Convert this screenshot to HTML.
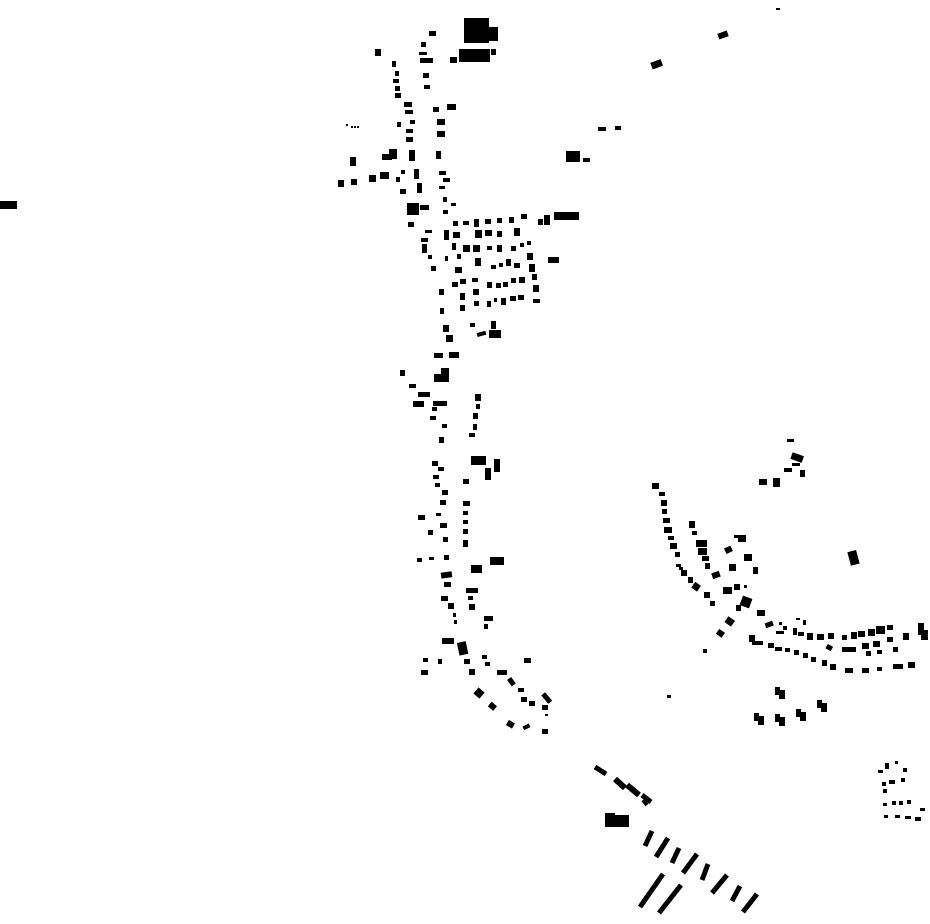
<!DOCTYPE html>
<html><head><meta charset="utf-8"><style>html,body{margin:0;padding:0;background:#fff}svg{display:block}</style></head>
<body>
<svg width="930" height="924" viewBox="0 0 930 924" xmlns="http://www.w3.org/2000/svg">
<rect width="930" height="924" fill="#fff"/>
<g fill="#000">
<!-- outliers -->
<rect x="0" y="201" width="17" height="8"/>
<rect x="718" y="32" width="10" height="6" transform="rotate(-20 723 35)"/>
<rect x="651" y="61" width="11" height="7" transform="rotate(-20 656 64)"/>
<rect x="776" y="8" width="4" height="2"/>
<rect x="598" y="127" width="8" height="4"/><rect x="615" y="126" width="6" height="4"/>
<rect x="346" y="124" width="2" height="2"/><rect x="351" y="126" width="2" height="2"/><rect x="354" y="126" width="2" height="2"/><rect x="357" y="126" width="2" height="2"/>
<!-- top cluster -->
<rect x="464" y="18" width="25" height="25"/><rect x="487" y="27" width="11" height="14"/>
<rect x="459" y="49" width="31" height="13"/><rect x="491" y="49" width="5" height="6"/>
<rect x="450" y="57" width="7" height="6"/>
<rect x="429" y="31" width="7" height="5"/><rect x="421" y="42" width="5" height="5"/>
<rect x="375" y="49" width="6" height="7"/><rect x="419" y="52" width="8" height="3"/>
<rect x="420" y="58" width="13" height="5"/>
<rect x="392" y="61" width="4" height="6"/><rect x="395" y="71" width="4" height="5"/>
<rect x="393" y="79" width="6" height="4"/><rect x="395" y="86" width="5" height="5"/>
<rect x="395" y="93" width="6" height="5"/><rect x="423" y="73" width="6" height="5"/>
<rect x="424" y="85" width="6" height="4"/><rect x="404" y="102" width="8" height="5"/>
<rect x="405" y="110" width="8" height="4"/><rect x="433" y="107" width="6" height="5"/>
<rect x="447" y="104" width="9" height="6"/><rect x="397" y="122" width="4" height="5"/>
<rect x="410" y="120" width="5" height="4"/><rect x="406" y="129" width="7" height="4"/>
<rect x="406" y="137" width="7" height="5"/><rect x="437" y="119" width="8" height="6"/>
<rect x="437" y="131" width="8" height="6"/>
<rect x="382" y="154" width="10" height="6"/><rect x="389" y="149" width="8" height="10"/>
<rect x="350" y="157" width="6" height="9"/><rect x="409" y="150" width="6" height="11"/>
<rect x="436" y="151" width="5" height="8"/>
<rect x="566" y="151" width="14" height="11"/><rect x="583" y="158" width="7" height="4"/>
<rect x="338" y="180" width="6" height="7"/><rect x="351" y="179" width="6" height="6"/>
<rect x="369" y="175" width="7" height="7"/><rect x="380" y="172" width="9" height="7"/>
<rect x="401" y="170" width="4" height="4"/><rect x="396" y="177" width="4" height="5"/>
<rect x="414" y="169" width="5" height="10"/><rect x="417" y="183" width="5" height="10"/>
<rect x="439" y="171" width="7" height="4"/><rect x="443" y="178" width="7" height="4"/>
<rect x="439" y="186" width="6" height="3"/><rect x="400" y="189" width="6" height="5"/>
<rect x="443" y="197" width="4" height="5"/><rect x="451" y="203" width="5" height="3"/>
<rect x="443" y="210" width="5" height="4"/>
<rect x="407" y="203" width="12" height="12"/><rect x="420" y="205" width="9" height="5"/>
<rect x="408" y="222" width="6" height="5"/><rect x="453" y="221" width="5" height="5"/>
<rect x="463" y="221" width="6" height="4"/><rect x="474" y="219" width="5" height="8"/>
<rect x="485" y="219" width="6" height="5"/><rect x="497" y="218" width="5" height="5"/>
<rect x="509" y="217" width="5" height="6"/><rect x="521" y="214" width="6" height="5"/>
<rect x="538" y="219" width="5" height="6"/><rect x="544" y="215" width="6" height="10"/>
<rect x="554" y="212" width="25" height="8"/>
<rect x="425" y="230" width="7" height="3"/><rect x="421" y="238" width="7" height="4"/>
<rect x="444" y="230" width="5" height="10"/><rect x="453" y="232" width="7" height="6"/>
<rect x="475" y="230" width="7" height="8"/><rect x="485" y="230" width="7" height="6"/>
<rect x="497" y="231" width="5" height="6"/><rect x="514" y="228" width="6" height="8"/>
<rect x="422" y="244" width="5" height="9"/><rect x="428" y="255" width="4" height="4"/>
<rect x="452" y="243" width="4" height="7"/><rect x="463" y="245" width="7" height="7"/>
<rect x="473" y="245" width="7" height="7"/><rect x="487" y="246" width="5" height="4"/>
<rect x="497" y="245" width="5" height="7"/><rect x="511" y="246" width="5" height="5"/>
<rect x="520" y="243" width="4" height="4"/><rect x="527" y="241" width="4" height="4"/>
<rect x="527" y="253" width="6" height="7"/><rect x="445" y="256" width="3" height="5"/>
<rect x="457" y="254" width="4" height="5"/><rect x="475" y="258" width="6" height="8"/>
<rect x="491" y="265" width="5" height="4"/><rect x="499" y="263" width="4" height="4"/>
<rect x="506" y="259" width="5" height="7"/><rect x="514" y="263" width="6" height="5"/>
<rect x="529" y="264" width="6" height="8"/><rect x="548" y="257" width="11" height="6"/>
<rect x="431" y="266" width="5" height="5"/><rect x="455" y="267" width="7" height="6"/>
<rect x="452" y="282" width="6" height="5"/><rect x="460" y="279" width="6" height="5"/>
<rect x="472" y="278" width="6" height="4"/><rect x="487" y="282" width="5" height="6"/>
<rect x="496" y="283" width="5" height="5"/><rect x="503" y="282" width="5" height="5"/>
<rect x="511" y="278" width="5" height="5"/><rect x="519" y="277" width="6" height="6"/>
<rect x="532" y="274" width="5" height="6"/><rect x="533" y="285" width="6" height="7"/>
<rect x="439" y="289" width="5" height="6"/><rect x="460" y="293" width="5" height="7"/>
<rect x="473" y="289" width="6" height="6"/><rect x="474" y="301" width="5" height="5"/>
<rect x="487" y="301" width="4" height="6"/><rect x="494" y="298" width="3" height="4"/>
<rect x="501" y="298" width="5" height="7"/><rect x="510" y="296" width="6" height="5"/>
<rect x="518" y="295" width="6" height="5"/><rect x="533" y="299" width="7" height="4"/>
<rect x="440" y="308" width="4" height="6"/><rect x="460" y="305" width="5" height="6"/>
<rect x="443" y="325" width="6" height="7"/><rect x="446" y="335" width="7" height="7"/>
<rect x="470" y="323" width="5" height="4"/><rect x="477" y="332" width="9" height="4" transform="rotate(-15 481 334)"/>
<rect x="491" y="321" width="5" height="8"/><rect x="489" y="330" width="12" height="8"/>
<!-- middle strip -->
<rect x="434" y="353" width="9" height="5"/><rect x="449" y="352" width="10" height="6"/>
<rect x="400" y="370" width="5" height="6"/><rect x="434" y="374" width="15" height="8"/><rect x="441" y="368" width="8" height="8"/>
<rect x="409" y="384" width="7" height="4"/><rect x="418" y="392" width="12" height="5"/>
<rect x="413" y="401" width="11" height="6"/><rect x="433" y="401" width="14" height="5"/>
<rect x="432" y="407" width="5" height="4"/><rect x="430" y="416" width="6" height="4"/>
<rect x="442" y="424" width="5" height="4"/><rect x="439" y="437" width="5" height="6"/>
<rect x="475" y="394" width="6" height="7"/><rect x="476" y="404" width="4" height="5"/>
<rect x="473" y="413" width="5" height="6"/><rect x="473" y="424" width="4" height="6"/>
<rect x="469" y="433" width="6" height="4"/>
<rect x="471" y="456" width="15" height="9"/><rect x="494" y="459" width="6" height="13"/>
<rect x="485" y="468" width="6" height="12"/>
<rect x="432" y="461" width="6" height="5"/><rect x="438" y="467" width="6" height="4"/>
<rect x="433" y="475" width="6" height="4"/><rect x="435" y="483" width="5" height="4"/>
<rect x="442" y="490" width="6" height="5"/><rect x="440" y="500" width="6" height="5"/>
<rect x="463" y="479" width="6" height="5"/><rect x="463" y="501" width="7" height="5"/>
<rect x="463" y="511" width="5" height="4"/><rect x="463" y="520" width="5" height="4"/>
<rect x="463" y="529" width="5" height="5"/><rect x="463" y="540" width="5" height="7"/>
<rect x="418" y="515" width="7" height="5"/><rect x="436" y="513" width="5" height="3"/>
<rect x="440" y="523" width="7" height="5"/><rect x="428" y="530" width="5" height="5"/>
<rect x="443" y="537" width="5" height="5"/>
<rect x="417" y="558" width="5" height="4"/><rect x="429" y="557" width="5" height="3"/>
<rect x="444" y="555" width="5" height="5"/><rect x="490" y="557" width="14" height="8"/>
<rect x="471" y="565" width="11" height="8"/><rect x="441" y="572" width="11" height="6" transform="rotate(-8 446 575)"/>
<rect x="444" y="582" width="7" height="5"/><rect x="466" y="588" width="12" height="5"/>
<rect x="468" y="596" width="5" height="4"/><rect x="469" y="604" width="6" height="6"/>
<rect x="441" y="596" width="7" height="5"/><rect x="448" y="603" width="6" height="6"/>
<rect x="453" y="613" width="3" height="4"/><rect x="454" y="620" width="3" height="4"/>
<rect x="484" y="616" width="9" height="5"/><rect x="484" y="624" width="4" height="5"/>
<rect x="442" y="638" width="12" height="6"/><rect x="458" y="642" width="9" height="13" transform="rotate(-12 462 648)"/>
<rect x="423" y="658" width="5" height="4"/><rect x="438" y="659" width="4" height="5"/>
<rect x="464" y="659" width="6" height="5"/><rect x="482" y="655" width="5" height="4"/>
<rect x="485" y="662" width="5" height="4"/><rect x="524" y="658" width="7" height="5"/>
<rect x="421" y="670" width="7" height="5"/><rect x="469" y="669" width="6" height="6"/>
<rect x="497" y="670" width="10" height="5"/><rect x="509" y="678" width="5" height="8" transform="rotate(-35 511 682)"/>
<rect x="518" y="688" width="6" height="4"/><rect x="521" y="697" width="6" height="5"/>
<rect x="529" y="701" width="6" height="5"/><rect x="544" y="693" width="5" height="11" transform="rotate(-40 546 698)"/>
<rect x="542" y="705" width="6" height="5"/><rect x="545" y="714" width="3" height="2"/>
<rect x="475" y="689" width="8" height="8" transform="rotate(40 479 693)"/>
<rect x="489" y="703" width="7" height="6" transform="rotate(40 492 706)"/>
<rect x="507" y="721" width="7" height="6" transform="rotate(30 510 724)"/>
<rect x="523" y="725" width="7" height="4" transform="rotate(-25 526 727)"/>
<rect x="542" y="729" width="6" height="5"/>
<!-- right cluster -->
<rect x="787" y="439" width="7" height="3"/>
<rect x="791" y="454" width="12" height="7" transform="rotate(20 797 458)"/>
<rect x="792" y="463" width="8" height="3"/><rect x="784" y="468" width="8" height="4"/>
<rect x="800" y="470" width="5" height="7"/><rect x="759" y="479" width="8" height="6"/>
<rect x="773" y="478" width="7" height="9"/>
<rect x="652" y="483" width="7" height="6"/><rect x="659" y="492" width="6" height="4"/>
<rect x="661" y="500" width="6" height="6"/><rect x="662" y="509" width="5" height="5"/>
<rect x="663" y="518" width="7" height="5"/><rect x="664" y="527" width="8" height="6"/>
<rect x="668" y="536" width="6" height="4"/><rect x="670" y="543" width="7" height="6"/>
<rect x="675" y="552" width="5" height="5"/><rect x="676" y="564" width="5" height="3"/><rect x="679" y="567" width="4" height="3"/>
<rect x="681" y="570" width="6" height="6"/><rect x="688" y="577" width="5" height="6"/>
<rect x="693" y="583" width="7" height="7" transform="rotate(35 696 586)"/>
<rect x="704" y="592" width="6" height="6"/><rect x="710" y="601" width="5" height="5"/>
<rect x="689" y="521" width="6" height="7"/><rect x="692" y="531" width="5" height="4"/>
<rect x="696" y="540" width="11" height="7"/><rect x="698" y="548" width="9" height="7"/>
<rect x="702" y="556" width="7" height="5"/><rect x="705" y="563" width="5" height="6"/>
<rect x="712" y="572" width="8" height="6" transform="rotate(-20 716 575)"/>
<rect x="738" y="535" width="8" height="7"/><rect x="734" y="535" width="5" height="3"/>
<rect x="725" y="547" width="7" height="6" transform="rotate(-25 728 550)"/>
<rect x="744" y="554" width="8" height="7"/><rect x="753" y="567" width="5" height="7"/>
<rect x="729" y="564" width="7" height="7"/>
<rect x="723" y="587" width="9" height="7"/><rect x="734" y="584" width="6" height="6"/>
<rect x="744" y="585" width="3" height="3"/>
<rect x="741" y="597" width="10" height="10" transform="rotate(20 746 602)"/><rect x="736" y="605" width="5" height="6"/>
<rect x="757" y="610" width="8" height="6"/><rect x="765" y="622" width="8" height="5" transform="rotate(-20 769 624)"/>
<rect x="726" y="618" width="8" height="7" transform="rotate(35 730 621)"/>
<rect x="717" y="630" width="7" height="6" transform="rotate(35 720 633)"/>
<rect x="703" y="649" width="4" height="4"/><rect x="667" y="695" width="4" height="3"/>
<rect x="849" y="551" width="9" height="14" transform="rotate(-15 853 558)"/>
<rect x="779" y="622" width="3" height="3"/><rect x="776" y="631" width="8" height="3"/><rect x="783" y="626" width="4" height="4"/>
<rect x="796" y="618" width="4" height="2"/><rect x="803" y="620" width="3" height="5"/><rect x="793" y="628" width="4" height="7"/><rect x="798" y="632" width="6" height="4"/>
<rect x="807" y="633" width="6" height="7"/><rect x="817" y="634" width="7" height="6"/>
<rect x="828" y="633" width="6" height="6"/><rect x="842" y="635" width="5" height="5"/>
<rect x="851" y="632" width="6" height="7"/><rect x="858" y="631" width="7" height="6"/>
<rect x="868" y="629" width="7" height="7"/><rect x="876" y="626" width="9" height="8"/>
<rect x="887" y="625" width="6" height="5"/><rect x="903" y="633" width="6" height="7"/>
<rect x="918" y="623" width="6" height="12"/><rect x="921" y="630" width="7" height="10"/>
<rect x="749" y="635" width="6" height="7"/><rect x="752" y="641" width="11" height="4"/>
<rect x="768" y="643" width="6" height="5"/><rect x="775" y="647" width="7" height="4"/>
<rect x="785" y="648" width="5" height="4"/><rect x="794" y="650" width="5" height="5"/>
<rect x="803" y="653" width="5" height="5"/><rect x="811" y="657" width="5" height="5"/>
<rect x="822" y="660" width="5" height="6"/><rect x="830" y="664" width="6" height="6"/>
<rect x="826" y="645" width="6" height="5" transform="rotate(30 829 648)"/>
<rect x="842" y="647" width="7" height="5"/><rect x="849" y="647" width="7" height="5"/>
<rect x="862" y="643" width="7" height="6"/><rect x="873" y="641" width="7" height="6"/>
<rect x="887" y="637" width="6" height="5"/><rect x="893" y="647" width="5" height="5"/>
<rect x="866" y="651" width="5" height="5"/><rect x="877" y="650" width="5" height="4"/>
<rect x="845" y="668" width="8" height="5"/><rect x="862" y="668" width="7" height="5"/>
<rect x="877" y="667" width="5" height="4"/><rect x="893" y="664" width="10" height="5"/>
<rect x="908" y="662" width="7" height="6"/>
<rect x="775" y="687" width="5" height="8"/><rect x="779" y="690" width="6" height="9"/>
<rect x="817" y="700" width="5" height="8"/><rect x="821" y="703" width="6" height="9"/>
<rect x="754" y="713" width="5" height="8"/><rect x="758" y="716" width="6" height="9"/>
<rect x="775" y="714" width="5" height="8"/><rect x="779" y="717" width="6" height="9"/>
<rect x="796" y="709" width="5" height="8"/><rect x="800" y="712" width="6" height="9"/>
<!-- bottom right cluster -->
<rect x="878" y="770" width="5" height="3"/><rect x="885" y="763" width="4" height="6"/>
<rect x="895" y="761" width="3" height="3"/><rect x="903" y="768" width="4" height="4"/>
<rect x="882" y="782" width="4" height="4"/><rect x="889" y="780" width="6" height="4"/>
<rect x="901" y="778" width="4" height="4"/><rect x="883" y="789" width="4" height="4"/>
<rect x="883" y="803" width="4" height="3"/><rect x="892" y="801" width="4" height="4"/>
<rect x="899" y="801" width="4" height="4"/><rect x="907" y="800" width="4" height="4"/>
<rect x="884" y="815" width="4" height="3"/><rect x="895" y="815" width="5" height="3"/>
<rect x="905" y="816" width="6" height="3"/><rect x="915" y="817" width="6" height="4"/>
<rect x="920" y="808" width="5" height="3"/>
<!-- bottom left -->
<rect x="605" y="813" width="10" height="14"/><rect x="615" y="815" width="14" height="12"/>
</g>
<g stroke="#000" stroke-linecap="butt" fill="none">
<line x1="595" y1="767" x2="606" y2="774" stroke-width="5"/>
<line x1="615" y1="779" x2="625" y2="788" stroke-width="6"/>
<line x1="627" y1="785" x2="639" y2="795" stroke-width="6"/>
<line x1="642" y1="795" x2="651" y2="802" stroke-width="5"/>
<line x1="643" y1="800" x2="647" y2="805" stroke-width="4"/>
<g stroke-width="5">
<line x1="652" y1="831" x2="645" y2="846"/>
<line x1="668" y1="838" x2="656" y2="857"/>
<line x1="679" y1="848" x2="672" y2="863"/>
<line x1="697" y1="854" x2="683" y2="873"/>
<line x1="708" y1="864" x2="702" y2="880"/>
<line x1="727" y1="875" x2="712" y2="893"/>
<line x1="740" y1="886" x2="732" y2="901"/>
<line x1="757" y1="894" x2="743" y2="912"/>
<line x1="663" y1="874" x2="640" y2="907"/>
<line x1="681" y1="885" x2="659" y2="913"/>
</g>
</g>
</svg>
</body></html>
